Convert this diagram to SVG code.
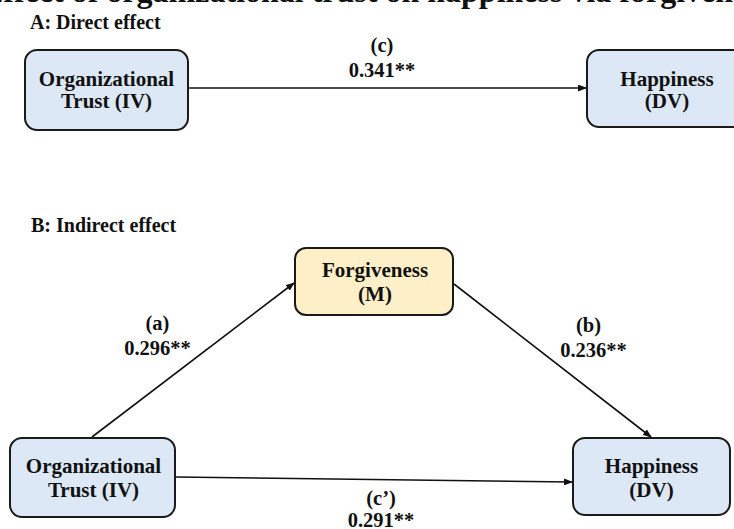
<svg xmlns="http://www.w3.org/2000/svg" width="734" height="529" viewBox="0 0 734 529">
  <style>
    text { font-family: "Liberation Serif", "Times New Roman", serif; font-weight: bold; fill: #111; }
    .title { font-size: 32px; }
    .head { font-size: 20px; }
    .node-text { font-size: 21px; text-anchor: middle; }
    .lbl { font-size: 20.5px; text-anchor: middle; }
    .box { stroke: #1a1a1a; stroke-width: 2; }
    .iv, .dv { fill: #dce8f5; }
    .med { fill: #fdefc8; }
    .edge { stroke: #111; stroke-width: 1.6; fill: none; marker-end: url(#arrow); }
  </style>
  <defs>
    <marker id="arrow" markerWidth="9" markerHeight="7" refX="8" refY="3.5" orient="auto" markerUnits="userSpaceOnUse">
      <path d="M0,0 L9,3.5 L0,7 z" fill="#111"/>
    </marker>
  </defs>

  <rect width="734" height="529" fill="#ffffff"/>

  <!-- figure title, running off the top edge -->
  <text class="title" x="-18" y="2">Effect of organizational trust on happiness via forgiveness</text>

  <!-- panel headings -->
  <text class="head" x="30" y="29">A: Direct effect</text>
  <text class="head" x="31" y="232">B: Indirect effect</text>

  <!-- connectors -->
  <g id="connectors">
    <line class="edge" x1="189" y1="88" x2="586" y2="88"/>
    <line class="edge" x1="92" y1="437" x2="294" y2="283"/>
    <line class="edge" x1="454" y1="284" x2="651" y2="437"/>
    <line class="edge" x1="176" y1="477" x2="572" y2="482"/>
  </g>

  <!-- connector labels -->
  <g id="labels">
    <text class="lbl" x="382" y="52">(c)</text>
    <text class="lbl" x="382" y="77">0.341**</text>
    <text class="lbl" x="157.5" y="330">(a)</text>
    <text class="lbl" x="157.5" y="355">0.296**</text>
    <text class="lbl" x="588.5" y="332">(b)</text>
    <text class="lbl" x="593.5" y="357">0.236**</text>
    <text class="lbl" x="381" y="505">(c’)</text>
    <text class="lbl" x="381" y="527">0.291**</text>
  </g>

  <!-- panel A -->
  <g id="a-trust">
    <rect class="box iv" x="25" y="50" width="163" height="80" rx="12"/>
    <text class="node-text" x="106.5" y="86">Organizational</text>
    <text class="node-text" x="106.5" y="108">Trust (IV)</text>
  </g>
  <g id="a-happiness">
    <rect class="box dv" x="587" y="50" width="160" height="77" rx="12"/>
    <text class="node-text" x="667" y="86">Happiness</text>
    <text class="node-text" x="667" y="108">(DV)</text>
  </g>

  <!-- panel B -->
  <g id="b-forgiveness">
    <rect class="box med" x="295" y="248" width="158" height="67" rx="11"/>
    <text class="node-text" x="375" y="277">Forgiveness</text>
    <text class="node-text" x="375" y="301">(M)</text>
  </g>
  <g id="b-trust">
    <rect class="box iv" x="10" y="438" width="165" height="79" rx="12"/>
    <text class="node-text" x="93.5" y="473">Organizational</text>
    <text class="node-text" x="93.5" y="497">Trust (IV)</text>
  </g>
  <g id="b-happiness">
    <rect class="box dv" x="573" y="438" width="157" height="77" rx="12"/>
    <text class="node-text" x="651.5" y="473">Happiness</text>
    <text class="node-text" x="651.5" y="497">(DV)</text>
  </g>
</svg>
